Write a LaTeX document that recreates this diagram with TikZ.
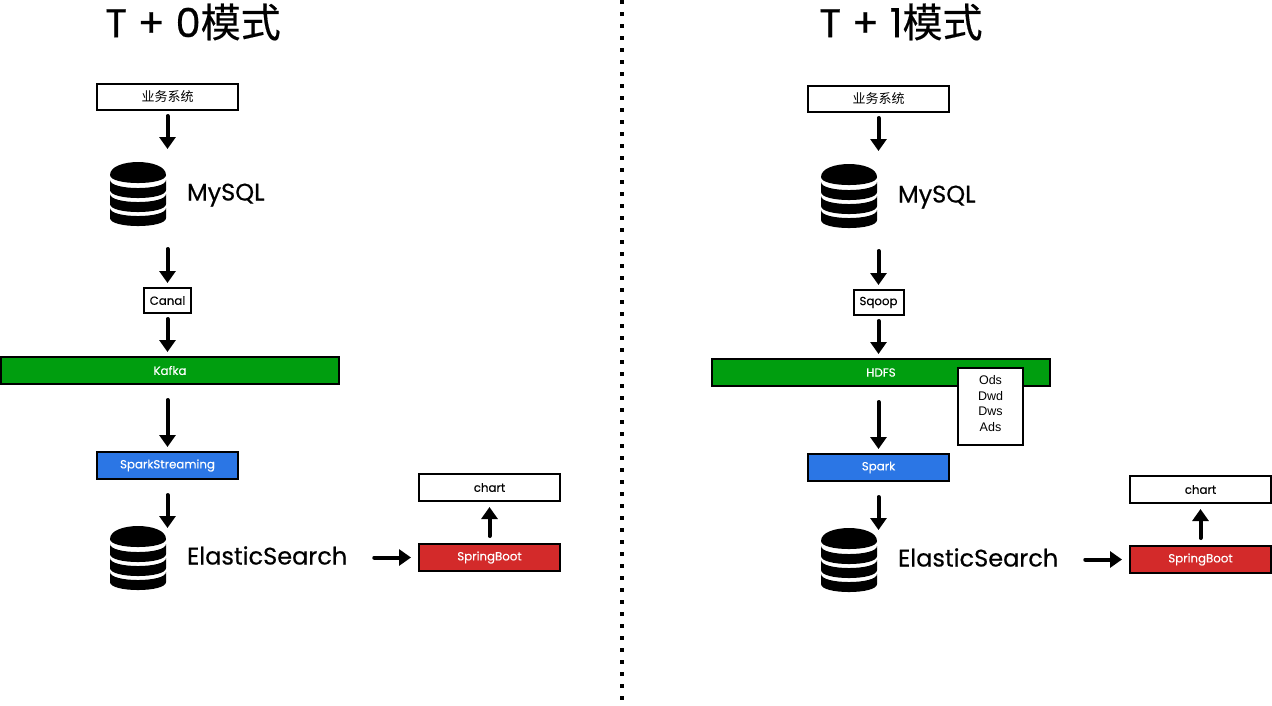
\documentclass[tikz,border=0pt]{standalone}
\usepackage{fontspec}
\setmainfont[FakeBold=0.15]{Poppins}
\newfontfamily\heavy[FakeBold=0.5]{Poppins}
\newfontfamily\cjk{Noto Sans CJK SC}
\newfontfamily\cjkheavy[FakeBold=0.4]{Noto Sans CJK SC}
\newfontfamily\plain{Liberation Sans}
\usetikzlibrary{positioning,arrows.meta}
\definecolor{barGreen}{HTML}{009E0F}
\definecolor{barBlue}{HTML}{2B76E5}
\definecolor{barRed}{HTML}{D32A2A}
\newcommand{\dbicon}[1]{%
  \begin{scope}[shift={(#1.north west)}]
    \fill[black] (0,13) .. controls (0,-4.3) and (56,-4.3) .. (56,13)
      .. controls (56,23.7) and (0,23.7) .. (0,13) -- cycle;
    \foreach \yy in {18,32,46}
      \fill[black] (0,\yy) .. controls (0,\yy+10.7) and (56,\yy+10.7) .. (56,\yy)
        -- (56,\yy+10) .. controls (56,\yy+20.7) and (0,\yy+20.7) .. (0,\yy+10) -- cycle;
  \end{scope}}

\begin{document}
\begin{tikzpicture}[
  x=1pt, y=-1pt,
  every node/.style={outer sep=0pt},
  box/.style={draw=black, line width=2pt, fill=white, inner sep=0pt, minimum height=26pt,
              minimum width=141pt, font=\fontsize{11.8}{14}\selectfont},
  smallbox/.style={box, minimum height=25pt},
  wide/.style={box, fill=barGreen, text=white, minimum width=338pt, minimum height=27pt},
  spark/.style={box, fill=barBlue, text=white, minimum height=27pt},
  boot/.style={box, fill=barRed, text=white, minimum height=27pt},
  topbox/.style={box, minimum height=27pt},
  layers/.style={box, align=center, minimum width=65pt, minimum height=77pt, text depth=6pt,
                 font=\plain\fontsize{12.5}{15.4}\selectfont},
  headline/.style={font=\heavy\fontsize{40}{44}\selectfont},
  dbname/.style={inner sep=0pt, text height=18pt, text depth=5pt,
                 font=\heavy\fontsize{24}{28}\selectfont},
  flow/.style={line width=4pt, line cap=round, -{Triangle[width=16pt,length=12pt]},
               shorten <=6pt, shorten >=5pt},
  dbstack/.style={minimum width=56pt, minimum height=64pt, inner sep=0pt},
]
\useasboundingbox (0,0) rectangle (1272,705);

\coordinate (divTop) at (622,0);
\coordinate (divBot) at (622,705);
\draw[line width=4pt, dash pattern=on 4pt off 8pt] (divTop) -- (divBot);

% T + 0
\node[headline] (title0) at (193,22) {T + 0{\cjkheavy 模式}};
\node[box] (sys0) at (167.5,97) {\cjk\fontsize{13}{15}\selectfont 业务系统};
\node[dbstack, anchor=north west] (mysql0) at (110,162) {};
\node[dbname, right=21pt of mysql0] (mysqlName0) {MySQL};
\node[smallbox, minimum width=47pt, below=62pt of sys0.south |- mysql0.south] (canal) {Canal};
\node[wide, below=44pt of canal, xshift=2.5pt] (kafka) {Kafka};
\node[spark, below=68pt of canal.south |- kafka.south] (sparkStream) {SparkStreaming};
\node[dbstack, anchor=north west] (es0) at (110,526) {};
\node[dbname, right=21pt of es0] (esName0) {ElasticSearch};
\node[boot, right=253pt of es0, yshift=0.5pt] (boot0) {SpringBoot};
\node[topbox, above=43pt of boot0] (chart0) {chart};
\dbicon{mysql0}
\dbicon{es0}

\draw[flow, shorten >=13pt] (sys0.south) -- (sys0.south |- mysql0.north);
\draw[flow, shorten <=23pt] (sys0.south |- mysql0.south) -- (canal.north);
\draw[flow] (canal.south) -- (canal.south |- kafka.north);
\draw[flow, shorten <=16pt] (canal.south |- kafka.south) -- (sparkStream.north);
\draw[flow, shorten <=16pt, shorten >=-2pt] (sparkStream.south) -- (sparkStream.south |- es0.north);
\draw[flow, shorten <=27pt, shorten >=8pt] (esName0.east |- boot0.west) -- (boot0.west);
\draw[flow, shorten <=8pt, shorten >=6pt] (boot0.north) -- (chart0.south);

% T + 1
\node[headline] (title1) at (901,22) {T + 1{\cjkheavy 模式}};
\node[box] (sys1) at (878.5,99) {\cjk\fontsize{13}{15}\selectfont 业务系统};
\node[dbstack, anchor=north west] (mysql1) at (821,164) {};
\node[dbname, right=21pt of mysql1] (mysqlName1) {MySQL};
\node[smallbox, minimum width=50pt, below=62pt of sys1.south |- mysql1.south] (sqoop) {Sqoop};
\node[wide, below=44pt of sqoop, xshift=2.5pt] (hdfs) {HDFS};
\node[layers, anchor=north west] (dw) at (958,368) {Ods\\Dwd\\Dws\\Ads};
\node[spark, below=68pt of sqoop.south |- hdfs.south] (spark) {Spark};
\node[dbstack, anchor=north west] (es1) at (821,528) {};
\node[dbname, right=21pt of es1] (esName1) {ElasticSearch};
\node[boot, right=253pt of es1, yshift=0.5pt] (boot1) {SpringBoot};
\node[topbox, above=43pt of boot1] (chart1) {chart};
\dbicon{mysql1}
\dbicon{es1}

\draw[flow, shorten >=13pt] (sys1.south) -- (sys1.south |- mysql1.north);
\draw[flow, shorten <=23pt] (sys1.south |- mysql1.south) -- (sqoop.north);
\draw[flow] (sqoop.south) -- (sqoop.south |- hdfs.north);
\draw[flow, shorten <=16pt] (sqoop.south |- hdfs.south) -- (spark.north);
\draw[flow, shorten <=16pt, shorten >=-2pt] (spark.south) -- (spark.south |- es1.north);
\draw[flow, shorten <=27pt, shorten >=8pt] (esName1.east |- boot1.west) -- (boot1.west);
\draw[flow, shorten <=8pt, shorten >=6pt] (boot1.north) -- (chart1.south);

\end{tikzpicture}
\end{document}
